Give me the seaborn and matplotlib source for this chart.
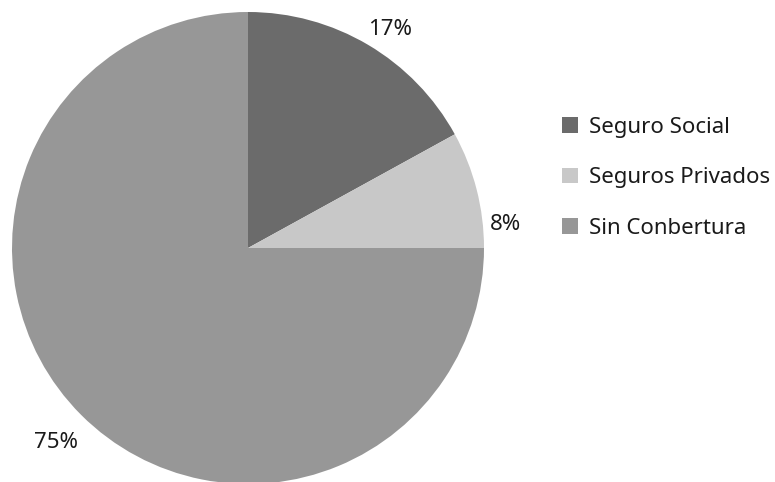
import matplotlib
matplotlib.use("Agg")
import matplotlib.pyplot as plt
import seaborn as sns
import numpy as np

sns.set_theme(style="white")
plt.rcParams['font.family'] = ['Noto Sans', 'DejaVu Sans']

categories = ["Seguro Social", "Seguros Privados", "Sin Conbertura"]
shares = [17, 8, 75]
colors = ["#6b6b6b", "#c8c8c8", "#979797"]

W, H = 775, 482
fig = plt.figure(figsize=(W / 100, H / 100), dpi=100)
ax = fig.add_axes([0, 0, 1, 1])

cx, cy, r = 248, H - 248, 236
wedges, texts, autotexts = ax.pie(
    shares, colors=colors, startangle=90, counterclock=False,
    center=(cx, cy), radius=r, frame=True,
    autopct=lambda p: f"{p:.0f}%", pctdistance=1.15,
    wedgeprops=dict(linewidth=0),
    textprops=dict(fontsize=16, color="#1a1a1a"),
)
ax.set_xlim(0, W)
ax.set_ylim(0, H)
ax.set_aspect("equal")
ax.axis("off")

# label placement around the rim: (angle in degrees, distance in radii);
# a small downward nudge centres the digits rather than the full text box
label_polar = [(57.3, 1.115), (5.8, 1.095), (-135.0, 1.15)]
for t, (a, d) in zip(autotexts, label_polar):
    a = np.deg2rad(a)
    t.set_position((cx + d * r * np.cos(a), cy + d * r * np.sin(a) - 3))

leg = ax.legend(
    wedges, categories, loc="upper left",
    bbox_to_anchor=(542 / W, 1 - 97 / H), bbox_transform=fig.transFigure,
    frameon=False, fontsize=16, handlelength=0.72, handleheight=0.72,
    handletextpad=0.5, labelspacing=1.32,
)
for t in leg.get_texts():
    t.set_color("#1a1a1a")

fig.savefig("out.png", dpi=100)
